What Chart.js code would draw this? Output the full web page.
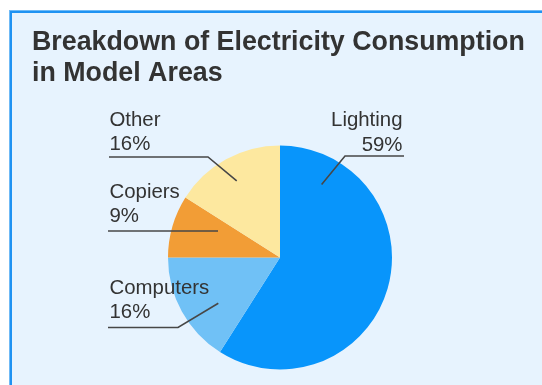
<!DOCTYPE html>
<html>
<head>
<meta charset="utf-8">
<script src="https://cdn.jsdelivr.net/npm/chart.js@4.4.1/dist/chart.umd.min.js"></script>
<style>
  html, body { margin: 0; padding: 0; background: #ffffff; }
  #chart { position: absolute; left: 0; top: 0; }
</style>
</head>
<body>
<canvas id="chart" width="542" height="385"></canvas>
<script>
// Chart data
const titleLines = ['Breakdown of Electricity Consumption', 'in Model Areas'];
const categories = ['Lighting', 'Computers', 'Copiers', 'Other'];
const shares = [59, 16, 9, 16];
const sliceColors = ['#0895fb', '#70c1f6', '#f29d36', '#fde89f'];

// Where each callout sits (text baseline, underline, elbow, inner point in slice)
const calloutLayout = {
    Lighting:  { x: 402.5, y: 126,   align: 'right', lineY: 156,   x0: 404, x1: 345, ang: 29.7,  dist: 0.75 },
    Computers: { x: 109.5, y: 293.6, align: 'left',  lineY: 327.5, x0: 108, x1: 178, ang: 233.4, dist: 0.686 },
    Copiers:   { x: 109.5, y: 197.5, align: 'left',  lineY: 231,   x0: 108, x1: 218, ang: null,  dist: 0 },
    Other:     { x: 109.5, y: 125.5, align: 'left',  lineY: 157,   x0: 109, x1: 208, ang: 330.5, dist: 0.785 }
};

const panelPlugin = {
    id: 'panel',
    beforeDraw: function(chart) {
        const ctx = chart.ctx;
        ctx.save();
        ctx.fillStyle = '#ffffff';
        ctx.fillRect(0, 0, chart.width, chart.height);
        ctx.fillStyle = '#e7f3fe';
        ctx.fillRect(9, 10, chart.width - 9, chart.height - 10);
        // panel border (top + left)
        ctx.fillStyle = '#6fbaf6';
        ctx.fillRect(9, 10, chart.width - 9, 1);
        ctx.fillRect(9, 10, 1, chart.height - 10);
        ctx.fillStyle = '#1f92f2';
        ctx.fillRect(10, 11, chart.width - 10, 2);
        ctx.fillRect(10, 11, 2, chart.height - 11);
        ctx.restore();
    },
    afterDraw: function(chart) {
        const ctx = chart.ctx;
        ctx.save();

        // title
        ctx.fillStyle = '#333333';
        ctx.font = 'bold 26.8px "Liberation Sans", Arial, sans-serif';
        ctx.textAlign = 'left';
        ctx.textBaseline = 'alphabetic';
        titleLines.forEach(function(line, i) {
            ctx.fillText(line, 32, 49.5 + i * 31.5);
        });

        // callouts
        const meta = chart.getDatasetMeta(0);
        const total = shares.reduce(function(a, b) { return a + b; }, 0);
        ctx.font = '20.4px "Liberation Sans", Arial, sans-serif';
        categories.forEach(function(cat, i) {
            const lay = calloutLayout[cat];
            const arc = meta.data[i];
            const pct = Math.round(shares[i] / total * 100) + '%';

            ctx.fillStyle = '#333333';
            ctx.textAlign = lay.align;
            ctx.fillText(cat, lay.x, lay.y);
            ctx.fillText(pct, lay.x, lay.y + 24.5);

            ctx.strokeStyle = '#474747';
            ctx.lineWidth = 1.6;
            ctx.beginPath();
            ctx.moveTo(lay.x0, lay.lineY);
            ctx.lineTo(lay.x1, lay.lineY);
            if (lay.ang !== null) {
                const a = lay.ang * Math.PI / 180;
                const r = arc.outerRadius * lay.dist;
                ctx.lineTo(arc.x + Math.sin(a) * r, arc.y - Math.cos(a) * r);
            }
            ctx.stroke();
        });
        ctx.restore();
    }
};

new Chart(document.getElementById('chart'), {
    type: 'pie',
    data: {
        labels: categories,
        datasets: [{
            data: shares,
            backgroundColor: sliceColors,
            borderWidth: 0
        }]
    },
    options: {
        responsive: false,
        animation: false,
        rotation: 0,
        layout: {
            padding: { left: 168, right: 150, top: 145.5, bottom: 15.5 }
        },
        plugins: {
            legend: { display: false },
            title: { display: false },
            tooltip: { enabled: false }
        }
    },
    plugins: [panelPlugin]
});
</script>
</body>
</html>
